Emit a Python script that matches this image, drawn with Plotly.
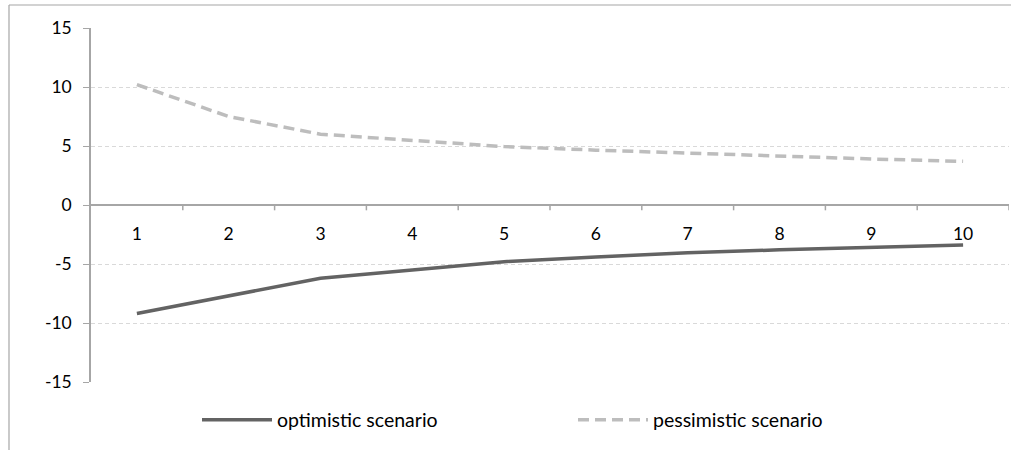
import plotly.graph_objects as go

categories = [1, 2, 3, 4, 5, 6, 7, 8, 9, 10]
optimistic = [-9.2, -7.7, -6.2, -5.5, -4.8, -4.4, -4.05, -3.8, -3.6, -3.4]
pessimistic = [10.2, 7.5, 6.0, 5.5, 4.95, 4.65, 4.4, 4.1, 3.9, 3.7]
y_ticks = [-15, -10, -5, 0, 5, 10, 15]
y_tick_text = ["-15", "-10", "-5", "0", "5", "10", "15"]

FONT = "Lato"
W, H = 1011, 450
ml, mr, mt, mb = 91, 2, 28, 68
pw, ph = W - ml - mr, H - mt - mb

def px(x):
    return (x - ml) / pw

def py(y):
    return (H - mb - y) / ph

fig = go.Figure()
fig.add_trace(go.Scatter(x=categories, y=optimistic, mode="lines", name="optimistic scenario",
                         line=dict(color="#636363", width=3.5), legend="legend"))
fig.add_trace(go.Scatter(x=categories, y=pessimistic, mode="lines", name="pessimistic scenario",
                         line=dict(color="#bdbdbd", width=3.5, dash="11px,6px"), legend="legend2"))

legend_common = dict(orientation="h", xanchor="left", y=py(420), yanchor="middle", itemwidth=70,
                     font=dict(size=19.5, family=FONT, color="#000000"), bgcolor="rgba(0,0,0,0)")

fig.update_layout(
    width=W, height=H,
    margin=dict(l=ml, r=mr, t=mt, b=mb),
    plot_bgcolor="white", paper_bgcolor="white",
    font=dict(family=FONT, size=17.5, color="#000000"),
    showlegend=True,
    legend=dict(x=px(197), **legend_common),
    legend2=dict(x=px(573), **legend_common),
    xaxis=dict(type="linear", range=[0.5, 10.5], tickvals=categories, ticktext=[str(c) for c in categories],
               showgrid=False, showline=True, linecolor="#a6a6a6", linewidth=1.5,
               ticks="", anchor="free", position=0.5, zeroline=False,
               ticklabelstandoff=13, fixedrange=True),
    yaxis=dict(range=[-15, 15], tickvals=y_ticks, ticktext=y_tick_text, showgrid=True,
               gridcolor="#d9d9d9", griddash="4px,3px",
               gridwidth=1, showline=True, linecolor="#a6a6a6", linewidth=1.5, ticks="outside",
               ticklen=6, tickcolor="#a6a6a6", zeroline=False, ticklabelstandoff=8,
               fixedrange=True),
)

# category boundary tick marks on the x axis (at y = 0)
shapes = []
for b in [c + 0.5 for c in categories]:
    shapes.append(dict(type="line", xref="x", yref="y", x0=b, x1=b, y0=0, y1=-0.45,
                       line=dict(color="#a6a6a6", width=1.5)))
# chart border
shapes.append(dict(type="line", xref="paper", yref="paper", x0=px(9), x1=px(9), y0=py(452), y1=py(5),
                   line=dict(color="#a6a6a6", width=1.2)))
shapes.append(dict(type="line", xref="paper", yref="paper", x0=px(9), x1=px(1012), y0=py(5), y1=py(5),
                   line=dict(color="#a6a6a6", width=1.2)))
fig.update_layout(shapes=shapes)

fig.write_html("out.html", config={"displayModeBar": False},
               post_script="document.body.style.margin='0';")
